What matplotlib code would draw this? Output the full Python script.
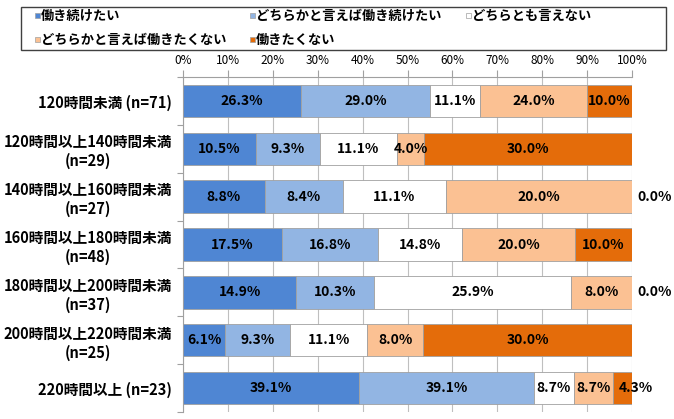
import matplotlib
matplotlib.use("Agg")
import matplotlib.pyplot as plt
from matplotlib.patches import Rectangle
from matplotlib.ticker import FixedLocator
import numpy as np

plt.rcParams['font.family'] = ['Noto Sans CJK JP', 'DejaVu Sans']

categories = ["120時間未満 (n=71)",
              "120時間以上140時間未満\n(n=29)",
              "140時間以上160時間未満\n(n=27)",
              "160時間以上180時間未満\n(n=48)",
              "180時間以上200時間未満\n(n=37)",
              "200時間以上220時間未満\n(n=25)",
              "220時間以上 (n=23)"]
series_names = ["働き続けたい", "どちらかと言えば働き続けたい", "どちらとも言えない",
                "どちらかと言えば働きたくない", "働きたくない"]
s1 = [26.3, 10.5, 8.8, 17.5, 14.9, 6.1, 39.1]
s2 = [29.0, 9.3, 8.4, 16.8, 10.3, 9.3, 39.1]
s3 = [11.1, 11.1, 11.1, 14.8, 25.9, 11.1, 8.7]
s4 = [24.0, 4.0, 20.0, 20.0, 8.0, 8.0, 8.7]
s5 = [10.0, 30.0, 0.0, 10.0, 0.0, 30.0, 4.3]
xticks = [0, 10, 20, 30, 40, 50, 60, 70, 80, 90, 100]

colors = ["#4F86D3", "#92B5E3", "#FFFFFF", "#FBC193", "#E46C0A"]

W, H = 674, 419
fig = plt.figure(figsize=(W / 100, H / 100), dpi=100)
ax = fig.add_axes([183 / W, 1 - 412 / H, (632 - 183) / W, (412 - 77) / H])

data = np.array([s1, s2, s3, s4, s5], dtype=float)
totals = data.sum(axis=0)
pct = data / totals * 100
y = np.arange(len(categories))
left = np.zeros(len(categories))
for i in range(len(series_names)):
    ax.barh(y, pct[i], left=left, height=0.68, color=colors[i],
            edgecolor="#A0A0A0", linewidth=0.6, zorder=3)
    for j in range(len(categories)):
        v = data[i, j]
        txt = f"{v:.1f}%"
        if pct[i, j] == 0:
            ax.text(left[j] + pct[i, j] + 1.2, y[j], txt, ha="left", va="center",
                    fontsize=10, fontweight="bold", color="black", zorder=5, clip_on=False)
        else:
            cx = left[j] + pct[i, j] / 2
            if i == len(series_names) - 1 and pct[i, j] < 6:
                cx += 3.0
            ax.text(cx, y[j], txt, ha="center", va="center",
                    fontsize=10, fontweight="bold", color="black", zorder=5, clip_on=False)
    left += pct[i]

ax.set_xlim(0, 100)
ax.set_ylim(len(categories) - 0.5, -0.5)
ax.xaxis.tick_top()
ax.set_xticks(xticks)
ax.set_xticklabels([f"{t}%" for t in xticks], fontsize=8.5)
ax.tick_params(axis="x", direction="out", length=5, width=0.8, color="#A0A0A0", pad=2.5)
ax.grid(axis="x", color="#BFBFBF", linewidth=0.8, zorder=0)
ax.set_yticks(y)
ax.set_yticklabels(categories, fontsize=10.5, fontweight="bold")
for lbl in ax.get_yticklabels():
    lbl.set_multialignment("center")
ax.tick_params(axis="y", which="major", length=0, pad=8)
ax.yaxis.set_minor_locator(FixedLocator(np.arange(-0.5, len(categories) + 0.5, 1)))
ax.tick_params(axis="y", which="minor", length=4, width=0.8, color="#A0A0A0", direction="out")
for s in ["right", "bottom"]:
    ax.spines[s].set_visible(False)
for s in ["top", "left"]:
    ax.spines[s].set_color("#A0A0A0")
    ax.spines[s].set_linewidth(0.8)

# legend box
fig.patches.append(Rectangle((21 / W, 1 - 50 / H), (666 - 21) / W, (50 - 7) / H,
                             transform=fig.transFigure, facecolor="white",
                             edgecolor="#404040", linewidth=1.0, zorder=1))
leg_pos = [(35, 15.5), (250, 15.5), (466, 15.5), (35, 39.5), (250, 39.5)]
for i, name in enumerate(series_names):
    px, py = leg_pos[i]
    fig.patches.append(Rectangle((px / W, 1 - (py + 2.5) / H), 5 / W, 5 / H,
                                 transform=fig.transFigure, facecolor=colors[i],
                                 edgecolor="#A0A0A0", linewidth=0.5, zorder=2))
    fig.text((px + 6) / W, 1 - py / H, name, ha="left", va="center",
             fontsize=9.5, fontweight="bold", zorder=3)

fig.savefig("out.png", dpi=100)
